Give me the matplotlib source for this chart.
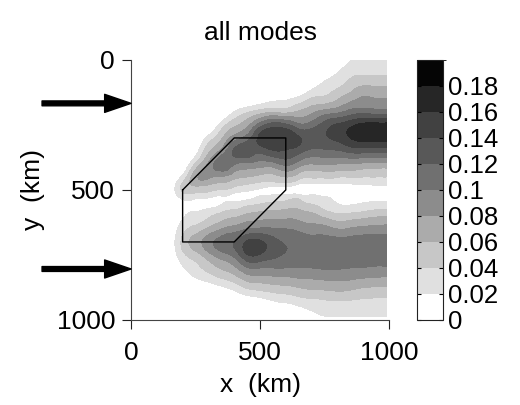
import numpy as np
import matplotlib
matplotlib.use("Agg")
import matplotlib.pyplot as plt
import matplotlib.tri as mtri
from matplotlib.colors import ListedColormap, BoundaryNorm
from matplotlib.ticker import FuncFormatter

plt.rcParams['font.family'] = ['Liberation Sans', 'DejaVu Sans']

# ---- data (field values in units of 0.01) ----
x_km = [150, 200, 250, 300, 350, 400, 450, 500, 550, 600, 650, 700, 750, 800, 850, 900, 950, 990]
y_km = [0, 50, 100, 150, 200, 250, 300, 350, 400, 450, 475, 500, 525, 550, 575, 600,
        650, 700, 750, 800, 850, 900, 950, 985]

z_x150 = [0]*24
z_x200 = [0,0,0,0,0,0,0,0,0, 2.5,4.1,4.4,2.8,1.3,1.0,1.7,3.1,4.5,3.4,1.7,0.3,0,0,0]
z_x250 = [0,0,0,0,0,0,0, 1.05,4.2,7.4,6.8,4.8,2.9,0.9,1.6,2.65,4.8,7.0,5.15,3.3,1.45,0,0,0]
z_x300 = [0,0,0,0,0,0, 2.7,5.5,8.3,8.4,6.5,4.5,2.55,0.9,2.3,3.7,6.4,9.2,7.25,4.75,2.25,0,0,0]
z_x350 = [0,0,0,0,0, 2.75,5.65,8.55,11.5,7.7,5.8,3.9,1.9,1.7,3.2,4.8,7.9,11.0,9.1,6.2,3.3,0.4,0,0]
z_x400 = [0,0,0,0, 2.07,5.5,8.9,12.3,10.2,6.6,4.85,3.1,1.3,2.3,3.9,5.6,8.9,12.0,10.6,7.5,4.4,1.25,0,0]
z_x450 = [0,0,0,0, 3.7,7.4,11.0,13.3,9.6,6.0,4.2,2.4,1.3,3.05,4.8,6.55,10.0,14.3,13.8,9.8,6.1,2.4,0,0]
z_x500 = [0,0,0,0.8,5.0,11.0,14.6,12.6,9.0,5.4,3.6,1.8,2.1,3.7,5.4,7.0,10.3,14.4,13.8,10.0,6.5,3.0,0,0]
z_x550 = [0,0,0,1.5,5.8,13.0,15.4,13.8,9.2,5.3,3.3,1.4,2.5,4.2,5.8,7.2,10.2,12.8,12.6,10.0,6.8,3.6,0.8,0]
z_x600 = [0,0,0,1.8,5.4,12.5,15.0,13.8,10.5,6.0,3.6,1.0,2.8,4.4,6.0,7.4,10.0,11.8,11.8,10.0,7.0,4.0,1.2,0]
z_x650 = [0,0,0,2.6,6.3,10.5,14.2,12.8,9.0,4.8,2.3,0.6,3.0,4.5,6.0,7.2,9.5,11.3,11.4,10.0,7.4,4.6,1.8,0.5]
z_x700 = [0,0,1.2,4.2,7.5,11.0,13.3,11.5,8.0,4.2,2.2,0.4,2.6,3.8,5.2,6.6,9.0,10.8,11.2,10.0,7.6,5.0,2.4,1.7]
z_x750 = [0,0.9,2.6,4.6,8.8,12.8,13.6,11.6,8.2,4.3,2.0,0.3,2.0,3.2,3.9,5.5,8.8,10.8,11.2,10.2,7.8,5.2,2.8,2.0]
z_x800 = [0,2.0,3.6,5.8,9.5,14.3,14.6,11.8,8.0,4.1,2.0,0.3,0.8,1.9,3.0,4.6,8.0,10.8,11.2,10.2,8.0,5.4,3.0,2.2]
z_x850 = [1.8,3.4,4.9,7.3,10.8,15.4,16.0,12.6,8.0,4.1,2.1,0.4,0.5,1.6,3.0,4.8,8.2,10.9,11.2,10.0,7.8,5.2,3.0,2.3]
z_x900 = [2.6,3.7,6.0,8.3,11.2,16.6,16.9,12.8,7.6,4.0,2.3,0.6,0.8,2.0,3.4,5.2,8.6,11.1,11.3,9.9,7.4,4.8,3.0,2.4]
z_x950 = [2.6,3.7,5.9,8.1,11.0,16.8,17.0,12.8,7.4,4.0,2.5,0.8,1.0,2.3,3.9,5.7,8.8,11.2,11.3,9.7,7.2,4.6,3.0,2.5]
z_x990 = [2.6,3.7,5.9,8.1,11.0,16.8,17.0,12.7,7.3,4.0,2.6,0.8,1.1,2.4,4.0,5.8,8.9,11.2,11.3,9.7,7.1,4.5,3.0,2.5]

levels = [0, 0.02, 0.04, 0.06, 0.08, 0.10, 0.12, 0.14, 0.16, 0.18, 0.20]
cbar_ticks = [0, 0.02, 0.04, 0.06, 0.08, 0.10, 0.12, 0.14, 0.16, 0.18]
band_grays = [1.0, 0.88, 0.78, 0.67, 0.55, 0.44, 0.345, 0.255, 0.15, 0.02]

poly_x = [200, 400, 600, 600, 400, 200, 200]
poly_y = [500, 300, 300, 500, 700, 700, 500]
arrow_y = [167, 804]

# ---- figure ----
cols = [z_x150, z_x200, z_x250, z_x300, z_x350, z_x400, z_x450, z_x500, z_x550,
        z_x600, z_x650, z_x700, z_x750, z_x800, z_x850, z_x900, z_x950, z_x990]
Z = np.column_stack(cols) / 100.0
X, Y = np.meshgrid(x_km, y_km)

# smooth rendering of the gridded field with matplotlib's triangulation refiner
tri = mtri.Triangulation(X.ravel(), Y.ravel())
refiner = mtri.UniformTriRefiner(tri)
tri_f, z_f = refiner.refine_field(Z.ravel(), subdiv=3)

fig = plt.figure(figsize=(5.2, 4.05), dpi=100)
ax = fig.add_axes([0.252, 0.210, 0.496, 0.642])
cax = fig.add_axes([0.802, 0.210, 0.049, 0.642])

cmap = ListedColormap([(g, g, g) for g in band_grays])
norm = BoundaryNorm(levels, cmap.N)
cf = ax.tricontourf(tri_f, z_f, levels=levels, cmap=cmap, norm=norm)

ax.plot(poly_x, poly_y, color='black', lw=1.0)

ax.set_xlim(0, 1000)
ax.set_ylim(1000, 0)
ax.set_xticks([0, 500, 1000])
ax.set_yticks([0, 500, 1000])
for s in ['top', 'right']:
    ax.spines[s].set_visible(False)
for s in ['left', 'bottom']:
    ax.spines[s].set_color('#444444')
    ax.spines[s].set_linewidth(0.8)
ax.tick_params(axis='both', labelsize=19, direction='out', length=6.5, width=0.8,
               color='#222222', pad=5)
ax.tick_params(axis='x', pad=8.5)
ax.set_xlabel('x  (km)', fontsize=19, labelpad=6)
ax.set_ylabel('y  (km)', fontsize=19, labelpad=8)
ax.set_title('all modes', fontsize=19, pad=14)

for ya in arrow_y:
    ax.annotate('', xy=(0, ya), xytext=(-345, ya), xycoords='data',
                arrowprops=dict(facecolor='black', edgecolor='black', width=3.5,
                                headwidth=13, headlength=19, shrink=0),
                annotation_clip=False)

cb = fig.colorbar(cf, cax=cax, ticks=cbar_ticks)
cb.ax.yaxis.set_major_formatter(FuncFormatter(lambda v, p: f'{v:g}'))
cb.ax.tick_params(labelsize=18.5, direction='in', length=3, width=0.8, left=True, right=True, pad=4)
cb.outline.set_linewidth(0.8)
cb.outline.set_edgecolor('#222222')

fig.savefig('out.png', dpi=100)
